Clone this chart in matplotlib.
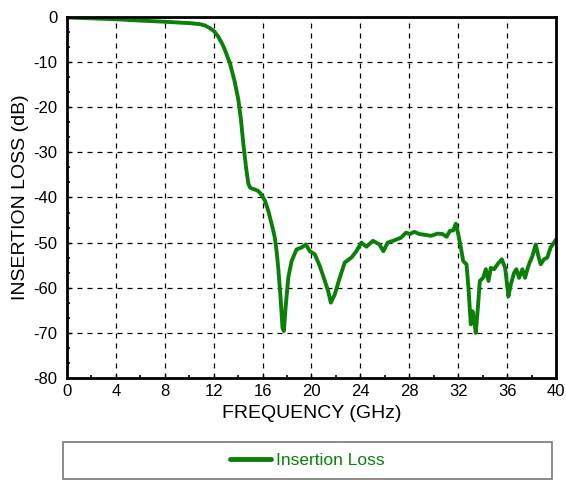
import matplotlib
matplotlib.use("Agg")
import matplotlib.pyplot as plt
from matplotlib.patches import Rectangle
from matplotlib.ticker import AutoMinorLocator

plt.rcParams['font.family'] = ['Liberation Sans', 'DejaVu Sans']
plt.rcParams['axes.unicode_minus'] = False

freq_ghz = [0.0, 2.0, 4.0, 6.0, 8.0, 9.24, 10.0, 10.88, 11.3, 11.7, 12.05, 12.38, 12.65, 12.92,
            13.33, 13.69, 14.02, 14.23, 14.42, 14.64, 14.83, 14.97, 15.1, 15.35, 15.6, 15.8,
            16.0, 16.19, 16.45, 16.6, 16.8, 17.0, 17.15, 17.28, 17.47, 17.63, 17.74, 17.88,
            18.1, 18.37, 18.78, 19.18, 19.54, 19.86, 20.27, 20.68, 21.09, 21.36, 21.58, 21.9,
            22.31, 22.72, 23.27, 23.67, 24.08, 24.49, 25.03, 25.55, 25.88, 26.23, 26.78,
            27.32, 27.73, 28.05, 28.41, 28.82, 29.36, 29.77, 30.31, 30.72, 31.05, 31.32,
            31.59, 31.81, 32.0, 32.22, 32.41, 32.68, 32.84, 33.03, 33.17, 33.31, 33.44,
            33.63, 33.77, 34.04, 34.26, 34.48, 34.67, 34.94, 35.21, 35.57, 35.84, 36.11,
            36.3, 36.57, 36.76, 36.98, 37.25, 37.47, 37.66, 37.85, 38.07, 38.34, 38.56,
            38.75, 39.02, 39.29, 39.56, 39.84, 40.0]
loss_db = [-0.1, -0.3, -0.5, -0.8, -1.05, -1.25, -1.35, -1.6, -1.9, -2.5, -3.2, -4.4, -5.7, -7.3,
           -10.3, -14.0, -18.4, -22.8, -28.0, -33.2, -36.9, -37.8, -38.0, -38.2, -38.5, -39.0,
           -39.8, -40.7, -42.8, -44.4, -46.5, -48.9, -52.0, -55.6, -62.2, -68.9, -69.6, -64.4,
           -57.8, -54.1, -51.5, -51.1, -50.4, -51.9, -52.6, -55.2, -58.5, -60.7, -63.3, -61.5,
           -57.8, -54.4, -53.3, -51.9, -50.0, -50.9, -49.6, -50.4, -51.9, -50.0, -49.5,
           -48.9, -47.8, -48.1, -47.6, -48.1, -48.3, -48.5, -48.0, -48.1, -48.7, -47.4,
           -47.3, -45.8, -48.1, -51.1, -54.1, -54.8, -60.0, -68.1, -65.2, -67.4, -70.0,
           -63.7, -58.5, -57.8, -55.9, -58.5, -55.6, -55.9, -54.8, -53.7, -55.6, -61.9,
           -59.3, -56.7, -55.9, -57.8, -55.9, -57.8, -55.9, -54.4, -53.0, -50.4, -53.0,
           -54.8, -53.7, -53.3, -51.1, -50.0, -49.3]

x_ticks = [0, 4, 8, 12, 16, 20, 24, 28, 32, 36, 40]
y_ticks = [0, -10, -20, -30, -40, -50, -60, -70, -80]
series_label = "Insertion Loss"
line_color = "#0a800a"

fig = plt.figure(figsize=(5.66, 4.8), dpi=100)
ax = fig.add_axes([0.1184, 0.2125, 0.8639, 0.7521])

ax.plot(freq_ghz, loss_db, color=line_color, lw=2.8, label=series_label,
        solid_joinstyle='round', solid_capstyle='round')

ax.set_xlim(0, 40)
ax.set_ylim(-80, 0)
ax.set_xticks(x_ticks)
ax.set_yticks(y_ticks)
ax.xaxis.set_minor_locator(AutoMinorLocator(2))
ax.yaxis.set_minor_locator(AutoMinorLocator(3))
ax.tick_params(which='both', direction='in', top=False, right=False, labelsize=12)
ax.tick_params(axis='x', which='major', pad=4)
ax.tick_params(axis='y', which='major', pad=7)
ax.tick_params(which='major', length=3, width=1)
ax.tick_params(which='minor', length=2, width=1.2)
ax.grid(True, which='major', color='black', linestyle=(0, (4, 4)), linewidth=0.9)
for s in ax.spines.values():
    s.set_linewidth(2)
    s.set_color('black')

ax.set_xlabel("FREQUENCY (GHz)", fontsize=14, labelpad=5)
ax.set_ylabel("INSERTION LOSS (dB)", fontsize=14, labelpad=3)

# legend box below the axes
rect = Rectangle((0.111, 0.002), 0.864, 0.077, transform=fig.transFigure,
                 fill=False, edgecolor='#777777', linewidth=1.2)
fig.patches.append(rect)
h, l = ax.get_legend_handles_labels()
leg = fig.legend(h, l, loc='center', bbox_to_anchor=(0.111, 0.002, 0.864, 0.077),
                 frameon=False, fontsize=12.5, handlelength=2.4, handletextpad=0.3,
                 labelcolor=line_color)
for ln in leg.get_lines():
    ln.set_linewidth(3.5)

fig.savefig("out.png", dpi=100)
